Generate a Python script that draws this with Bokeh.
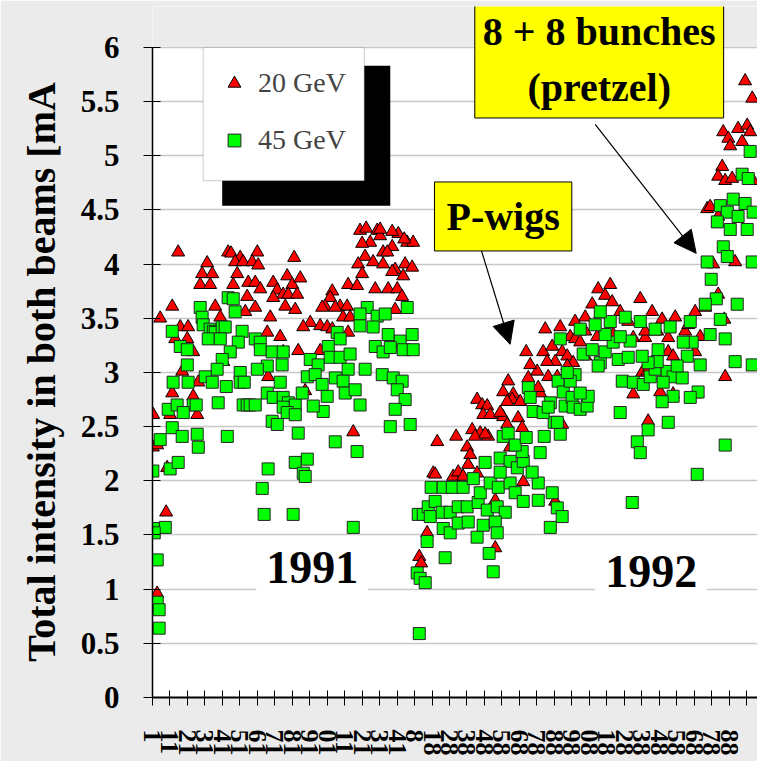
from bokeh.plotting import figure
from bokeh.models import (Range1d, FixedTicker, Legend, LegendItem, BoxAnnotation,
                          Label, Arrow, NormalHead)
from bokeh.embed import file_html
from bokeh.resources import INLINE

# ---------------- data (x = label slot on the category axis, y = mA) ----------------
tri_1991_x = [1.47, 4.33, 4.50, 6.00, 5.02, 3.13, 4.73, 5.19, 5.71, 6.05,
              8.11, 2.84, 3.42, 4.85, 2.73, 3.30, 4.62, 5.48, 5.88, 6.17,
              6.91, 7.71, 8.00, 8.46, 7.14, 5.42, 7.48, 7.77, 8.28, 6.91,
              1.13, 3.59, 5.88, 5.31, 7.60, 8.17, 3.88, 0.44, 6.74, 1.59,
              2.04, 6.57, 7.31, 9.03, 8.63, 9.60, 10.00, 1.30, 1.99, 2.33,
              7.48, 8.34, 9.60, 4.05, 1.70, 6.62, 2.62, 1.13, 2.33, 8.74,
              0.04, 1.01, 2.56, 11.49, 0.02, 0.27, 0.84, 0.78, 0.27, 11.88,
              12.86, 12.46, 12.00, 13.03, 14.07, 14.58, 14.92, 13.72, 13.20, 13.44,
              12.17, 11.77, 12.63, 13.20, 13.89, 14.46, 14.86, 12.00, 13.72, 14.35,
              11.20, 11.71, 12.75, 13.49, 14.01, 14.29, 10.29, 10.17, 9.88, 9.71,
              10.74, 11.14, 10.46, 13.89, 10.91, 11.31, 11.20, 10.29, 12.23, 13.03, 13.72, 14.41]
tri_1991_y = [4.11, 4.11, 4.10, 4.11, 4.06, 4.01, 4.02, 4.02, 4.02, 3.99,
              4.06, 3.91, 3.91, 3.91, 3.81, 3.81, 3.81, 3.83, 3.83, 3.77,
              3.83, 3.89, 3.81, 3.87, 3.76, 3.70, 3.72, 3.72, 3.72, 3.69,
              3.61, 3.61, 3.60, 3.56, 3.61, 3.58, 3.51, 3.50, 3.51, 3.42,
              3.42, 3.37, 3.33, 3.46, 3.42, 3.43, 3.42, 3.31, 3.31, 3.19,
              3.19, 3.20, 3.20, 3.10, 3.01, 2.96, 2.91, 2.81, 2.78, 2.83,
              2.61, 2.61, 2.61, 2.45, 2.31, 2.33, 2.12, 1.71, 0.96, 4.31,
              4.31, 4.20, 4.19, 4.26, 4.28, 4.20, 4.20, 4.16, 4.11, 4.11,
              4.07, 4.00, 4.02, 4.00, 3.95, 4.00, 3.97, 3.91, 3.93, 3.89,
              3.81, 3.80, 3.77, 3.77, 3.77, 3.70, 3.75, 3.69, 3.61, 3.60,
              3.61, 3.61, 3.60, 3.58, 3.51, 3.51, 3.37, 3.40, 4.33, 4.32, 4.30, 4.23]

tri_1992_x = [15.27, 15.38, 15.72, 19.62, 16.07, 16.18, 17.21, 17.50, 17.78, 18.58,
              16.30, 17.38, 18.01, 18.19, 18.07, 18.30, 18.76, 19.21, 18.47, 19.04,
              19.90, 20.07, 20.30, 20.93, 21.16, 20.47, 21.22, 19.62, 23.05, 23.45,
              18.58, 18.87, 19.16, 18.93, 19.33, 19.90, 20.07, 20.36, 20.65, 20.59,
              21.05, 20.30, 21.51, 22.19, 22.02, 21.62, 22.08, 21.39, 22.36, 22.88,
              23.45, 23.05, 22.59, 23.74, 24.08, 24.77, 22.65, 23.17, 23.74, 23.91,
              24.19, 24.48, 24.77, 25.45, 26.37, 27.52, 28.20, 28.20, 28.89, 29.52,
              30.49, 31.35, 27.52, 28.37, 32.78, 31.06, 31.06, 29.52, 29.80, 28.03,
              28.32, 29.06, 29.80, 25.51, 25.91, 26.31, 25.17, 26.77, 24.77, 27.23,
              27.92, 28.60, 29.17, 29.92, 30.67, 23.34, 24.19, 25.63, 22.48, 26.20,
              31.06, 31.64, 33.92, 34.33, 32.67, 32.96, 33.52, 34.04, 34.21, 33.75,
              33.07, 32.61, 32.38, 32.78, 33.18, 34.38, 31.75, 31.92, 32.38, 32.09, 33.35,
              32.38, 32.73]
tri_1992_y = [1.30, 1.24, 1.52, 1.38, 2.07, 2.06, 2.04, 2.08, 2.04, 2.07,
              2.36, 2.41, 2.31, 2.24, 2.15, 2.47, 2.44, 2.41, 2.41, 2.43,
              2.61, 2.59, 2.52, 2.58, 2.49, 2.31, 1.99, 1.82, 1.81, 2.52,
              2.75, 2.70, 2.69, 2.61, 2.61, 2.63, 2.82, 2.92, 2.80, 2.75,
              2.73, 2.73, 2.95, 2.81, 3.01, 3.07, 2.86, 3.19, 3.19, 3.24,
              3.19, 3.10, 3.10, 3.15, 3.09, 3.15, 2.96, 2.96, 3.06, 3.33,
              3.31, 3.28, 3.38, 3.33, 3.35, 3.32, 3.32, 3.38, 3.38, 3.32,
              3.38, 3.33, 2.80, 2.55, 2.96, 3.19, 2.80, 3.19, 3.15, 3.00,
              3.01, 2.82, 2.80, 3.77, 3.71, 3.65, 3.63, 3.56, 3.51, 3.47,
              3.68, 3.56, 3.49, 3.51, 3.44, 3.42, 3.47, 3.54, 3.40, 3.81,
              3.56, 3.60, 5.69, 5.53, 5.22, 5.16, 5.25, 5.28, 5.22, 5.13,
              5.09, 4.90, 4.81, 4.77, 4.79, 4.77, 4.51, 4.53, 4.44, 4.00, 4.02,
              3.72, 3.49]

sq_1991_x = [4.33, 4.62, 2.73, 4.73, 2.84, 2.90, 3.30, 3.48, 3.59, 3.99,
             4.16, 1.13, 5.13, 3.19, 3.88, 4.91, 5.88, 6.17, 1.59, 1.99,
             4.45, 6.17, 6.85, 7.48, 1.99, 3.99, 6.57, 7.42, 3.70, 6.00,
             3.02, 5.02, 5.02, 1.18, 2.04, 3.42, 4.22, 5.25, 7.31, 6.57,
             6.91, 7.48, 7.77, 8.17, 8.57, 3.76, 2.33, 2.50, 5.19, 5.42,
             5.59, 5.88, 0.90, 1.41, 1.76, 7.48, 7.71, 8.17, 6.85, 7.14,
             1.13, 0.44, 1.70, 2.56, 2.62, 4.28, 8.34, 0.02, 1.01, 1.47,
             6.62, 8.17, 8.86, 8.63, 8.74, 6.28, 6.39, 8.05, 0.73, 0.04,
             10.57, 10.74, 10.06, 10.17, 10.74, 11.31, 11.20, 10.46, 10.91, 11.03,
             11.60, 11.88, 12.29, 11.88, 12.86, 13.32, 14.58, 11.88, 12.63, 13.49,
             14.18, 14.86, 12.75, 13.20, 13.61, 14.35, 14.92, 12.17, 13.15, 13.78,
             14.29, 14.01, 14.46, 13.89, 13.61, 14.75, 11.71, 10.46, 11.49, 15.21,
             9.03, 8.86, 9.48, 9.31, 9.71, 10.00, 9.77, 9.20, 0.10, 0.27, 0.27, 0.38, 0.38]
sq_1991_y = [3.69, 3.68, 3.60, 3.56, 3.51, 3.44, 3.40, 3.38, 3.37, 3.42,
             3.42, 3.38, 3.38, 3.31, 3.31, 3.28, 3.31, 3.28, 3.24, 3.21,
             3.19, 3.21, 3.19, 3.19, 3.07, 3.12, 3.06, 3.07, 3.03, 3.03,
             2.96, 3.00, 2.91, 2.91, 2.91, 2.91, 2.87, 2.91, 2.91, 2.81,
             2.77, 2.77, 2.72, 2.70, 2.81, 2.72, 2.70, 2.70, 2.70, 2.70,
             2.70, 2.70, 2.66, 2.70, 2.63, 2.68, 2.63, 2.61, 2.55, 2.52,
             2.49, 2.38, 2.41, 2.43, 2.31, 2.41, 2.44, 2.09, 2.11, 2.17,
             2.11, 2.17, 2.20, 2.07, 2.04, 1.93, 1.69, 1.69, 1.57, 1.56,
             3.37, 3.31, 3.24, 3.14, 3.14, 3.17, 3.03, 2.95, 2.92, 2.81,
             2.84, 2.70, 3.60, 3.54, 3.52, 3.54, 3.60, 3.43, 3.42, 3.35,
             3.29, 3.35, 3.24, 3.19, 3.23, 3.21, 3.21, 3.03, 2.98, 2.95,
             2.92, 2.84, 2.75, 2.66, 2.50, 2.52, 2.27, 2.36, 1.57, 1.69,
             3.12, 2.96, 3.07, 2.98, 2.89, 2.78, 2.64, 2.69, 1.52, 1.27, 0.88, 0.81, 0.64]

sq_1992_x = [15.27, 15.15, 15.32, 15.61, 15.72, 16.75, 19.50, 19.27, 15.95, 16.64,
             17.16, 17.78, 18.36, 15.50, 15.78, 16.18, 15.90, 16.58, 17.04, 17.50,
             18.01, 18.64, 19.16, 19.73, 20.19, 16.64, 17.04, 17.50, 18.07, 18.58,
             18.93, 19.62, 19.73, 18.76, 19.33, 19.79, 20.47, 20.76, 21.22, 22.08,
             22.08, 22.88, 23.17, 23.45, 22.77, 19.04, 19.90, 20.47, 20.88, 21.22,
             21.73, 22.19, 21.16, 19.90, 20.07, 20.36, 20.76, 21.39, 22.42, 23.34,
             22.99, 21.51, 21.62, 21.79, 22.36, 22.77, 23.17, 22.65, 23.22, 23.51,
             23.62, 24.02, 24.19, 24.08, 24.48, 24.88, 24.94, 24.48, 23.91, 23.74,
             24.65, 25.17, 25.63, 25.51, 25.91, 26.37, 26.66, 27.23, 27.34, 26.77,
             25.91, 26.89, 27.52, 28.09, 28.49, 28.77, 28.94, 29.46, 29.80, 30.32,
             30.61, 30.89, 30.38, 31.35, 31.23, 30.78, 29.80, 29.17, 29.23, 28.89,
             30.03, 28.37, 28.03, 26.77, 27.75, 27.92, 28.37, 29.52, 32.78, 31.18,
             27.46, 32.78, 33.35, 34.33, 25.34, 26.20, 27.06, 27.92, 28.77, 29.63,
             30.78, 24.48, 25.63, 23.34, 34.21, 33.75, 34.10, 32.50, 33.24, 33.92,
             32.90, 33.52, 32.33, 33.07, 34.04, 34.38, 31.75, 32.67, 32.90, 34.33,
             31.98, 32.27, 31.64, 33.47, 32.50, 31.92]
sq_1992_y = [0.59, 1.15, 1.10, 1.06, 1.44, 1.29, 1.16, 1.33, 1.94, 1.94,
             1.94, 1.94, 2.02, 1.69, 1.76, 1.81, 1.67, 1.71, 1.71, 1.76,
             1.76, 1.80, 1.73, 1.76, 1.71, 1.56, 1.52, 1.61, 1.62, 1.48,
             1.59, 1.62, 1.52, 1.89, 1.98, 1.94, 1.98, 1.89, 1.81, 1.98,
             1.82, 1.89, 1.75, 1.67, 1.57, 2.17, 2.21, 2.18, 2.12, 2.18,
             2.08, 2.26, 2.27, 2.08, 2.41, 2.44, 2.33, 2.40, 2.41, 2.43,
             2.54, 2.86, 2.77, 2.64, 2.63, 2.72, 2.54, 2.68, 2.92, 2.82,
             2.69, 2.77, 2.98, 2.68, 2.66, 2.69, 2.78, 2.81, 2.92, 3.00,
             3.17, 3.21, 3.09, 3.06, 3.19, 3.28, 3.12, 3.14, 3.29, 3.33,
             3.35, 2.92, 2.91, 2.89, 2.96, 3.03, 3.21, 3.01, 2.96, 2.95,
             3.15, 3.28, 3.28, 3.07, 2.82, 2.77, 2.78, 2.73, 2.91, 3.10,
             3.06, 3.09, 3.15, 2.63, 2.36, 2.26, 2.47, 2.54, 2.33, 2.06,
             1.80, 3.31, 3.10, 3.07, 3.44, 3.47, 3.51, 3.47, 3.40, 3.42,
             3.47, 3.40, 3.56, 3.31, 5.04, 4.83, 4.79, 4.54, 4.60, 4.56,
             4.48, 4.44, 4.39, 4.32, 4.32, 4.48, 4.02, 4.16, 4.07, 4.02,
             3.86, 3.68, 3.63, 3.63, 3.49, 3.35]

series_names = ["20 GeV", "45 GeV"]
y_ticks = [0, 0.5, 1, 1.5, 2, 2.5, 3, 3.5, 4, 4.5, 5, 5.5, 6]
y_tick_labels = ["0", "0.5", "1", "1.5", "2", "2.5", "3", "3.5", "4", "4.5", "5", "5.5", "6"]
x_ticks = list(range(35))
# visible (clipped) ends of the category labels
x_tick_labels = ["1", "11", "21", "31", "41", "51", "61", "71", "81", "91",
                 "01", "11", "21", "31", "41",
                 "8", "18", "28", "38", "48", "58", "68", "78", "88", "98",
                 "08", "18", "28", "38", "48", "58", "68", "78", "88", ""]
y_title = "Total intensity in both beams [mA"
year_labels = ["1991", "1992"]
note_pwigs = "P-wigs"
note_pretzel = "8 + 8 bunches\n(pretzel)"

SERIF = "Liberation Serif"
BG = "#ebebeb"

tri_x = tri_1991_x + tri_1992_x
tri_y = tri_1991_y + tri_1992_y
sq_x = sq_1991_x + sq_1992_x
sq_y = sq_1991_y + sq_1992_y

# frame reaches up to the top of the call-out box; the part above 6 mA is painted grey
p = figure(width=757, height=761, output_backend="svg", toolbar_location=None,
           x_range=Range1d(0, 34.63), y_range=Range1d(0, 6.378),
           min_border_left=152, min_border_right=0, min_border_top=6, min_border_bottom=64)
p.border_fill_color = BG
p.background_fill_color = "white"
p.outline_line_color = None

# axes
p.yaxis.ticker = FixedTicker(ticks=y_ticks)
p.yaxis.bounds = (0, 6)
p.yaxis.major_label_overrides = {t: s for t, s in zip(y_ticks, y_tick_labels)}
p.yaxis.major_label_text_font = SERIF
p.yaxis.major_label_text_font_style = "bold"
p.yaxis.major_label_text_font_size = "31px"
p.yaxis.major_label_text_color = "black"
p.yaxis.major_label_standoff = 24
p.yaxis.major_tick_out = 9
p.yaxis.major_tick_in = 8
p.yaxis.major_tick_line_color = "black"
p.yaxis.minor_tick_line_color = None
p.yaxis.axis_line_color = "black"
p.yaxis.axis_line_width = 1.5
p.yaxis.axis_label = y_title + "\u00a0\u00a0\u00a0\u00a0"
p.yaxis.axis_label_text_font = SERIF
p.yaxis.axis_label_text_font_style = "bold"
p.yaxis.axis_label_text_font_size = "40px"
p.yaxis.axis_label_text_color = "black"
p.yaxis.axis_label_standoff = 14

p.xaxis.ticker = FixedTicker(ticks=x_ticks)
p.xaxis.major_label_overrides = {t: s for t, s in zip(x_ticks, x_tick_labels)}
p.xaxis.major_label_orientation = "vertical"
p.xaxis.major_label_text_font = SERIF
p.xaxis.major_label_text_font_style = "bold"
p.xaxis.major_label_text_font_size = "26px"
p.xaxis.major_label_text_color = "black"
p.xaxis.major_label_standoff = 24
p.xaxis.major_tick_out = 8
p.xaxis.major_tick_in = 7
p.xaxis.major_tick_line_color = "black"
p.xaxis.minor_tick_line_color = None
p.xaxis.axis_line_color = "black"
p.xaxis.axis_line_width = 2

p.xgrid.visible = False
p.ygrid.ticker = FixedTicker(ticks=y_ticks)
p.ygrid.grid_line_color = "#c8c8c8"
p.ygrid.grid_line_width = 1.5

# data
r_tri = p.scatter(tri_x, tri_y, marker="triangle", size=13, fill_color="#ff0000",
                  line_color="black", line_width=1)
r_sq = p.scatter(sq_x, sq_y, marker="square", size=12, fill_color="#00ff00",
                 line_color="#222222", line_width=1)

# grey page strip above the 6 mA line
p.add_layout(BoxAnnotation(bottom=6.004, fill_color=BG, fill_alpha=1, line_color=None))

# legend with drop shadow
p.add_layout(BoxAnnotation(left=3.99, right=13.61, bottom=4.54, top=5.83,
                           fill_color="black", fill_alpha=1, line_color=None))
p.add_layout(BoxAnnotation(left=2.90, right=12.12, bottom=4.77, top=6.0,
                           fill_color="white", fill_alpha=1, line_color="#555555", line_width=1))
legend = Legend(items=[LegendItem(label=series_names[0], renderers=[r_tri]),
                       LegendItem(label=series_names[1], renderers=[r_sq])],
                location=(66, 541), padding=0, margin=0, spacing=25,
                glyph_width=32, glyph_height=32, label_height=32, label_standoff=8,
                label_text_font=SERIF, label_text_font_size="28px",
                border_line_color=None, background_fill_alpha=0)
p.add_layout(legend)

# year labels
for txt, xx, yy in [(year_labels[0], 9.15, 1.20), (year_labels[1], 28.55, 1.16)]:
    p.add_layout(Label(x=xx, y=yy, text=txt, text_align="center", text_baseline="middle",
                       text_font=SERIF, text_font_style="bold", text_font_size="46px",
                       text_color="black", background_fill_color="white", padding=10))

# call-outs
p.add_layout(Arrow(end=NormalHead(size=22, fill_color="black", line_color="black"),
                   x_start=18.76, y_start=4.16, x_end=20.47, y_end=3.26,
                   line_color="black", line_width=1.2))
p.add_layout(Arrow(end=NormalHead(size=22, fill_color="black", line_color="black"),
                   x_start=25.34, y_start=5.29, x_end=31.12, y_end=4.10,
                   line_color="black", line_width=1.2))
p.add_layout(Label(x=20.07, y=4.44, text=note_pwigs, text_align="center", text_baseline="middle",
                   text_font=SERIF, text_font_style="bold", text_font_size="40px",
                   text_color="black", background_fill_color="#ffff00",
                   border_line_color="black", border_line_width=1, padding=12))
p.add_layout(Label(x=25.57, y=5.89, text=note_pretzel, text_align="center", text_baseline="middle",
                   text_font=SERIF, text_font_style="bold", text_font_size="40px",
                   text_line_height=1.25,
                   text_color="black", background_fill_color="#ffff00",
                   border_line_color="black", border_line_width=1, padding=8))

open("out.html", "w").write(file_html(p, INLINE))
